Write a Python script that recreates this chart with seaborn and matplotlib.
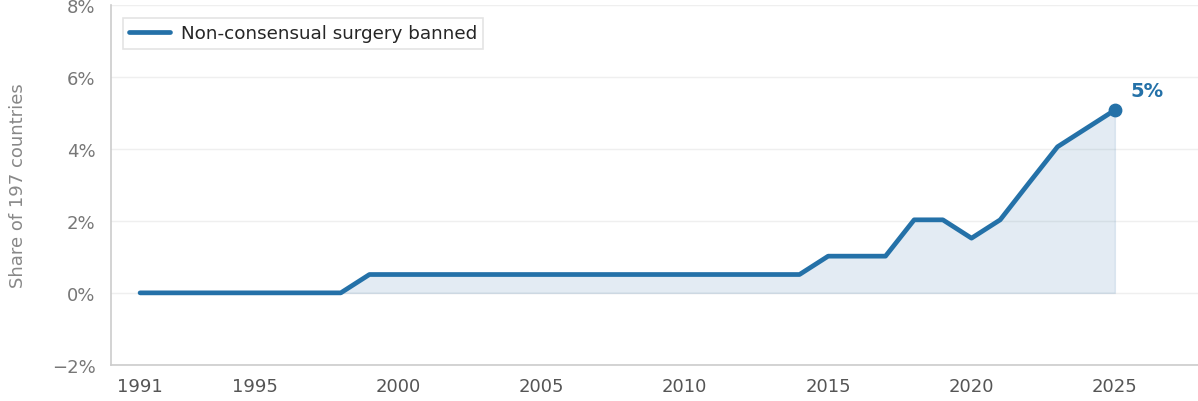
import matplotlib
matplotlib.use('Agg')
import matplotlib.pyplot as plt
import seaborn as sns
import pandas as pd
from matplotlib.ticker import FuncFormatter

sns.set_style('white')
plt.rcParams['font.family'] = ['DejaVu Sans']

years = list(range(1991, 2026))
share = [0.0] * 8 + [0.51] * 16 + [1.02] * 3 + [2.03, 2.03, 1.52, 2.03, 3.05, 4.06, 4.57, 5.08]
series_name = 'Non-consensual surgery banned'
x_ticks = [1991, 1995, 2000, 2005, 2010, 2015, 2020, 2025]
y_ticks = [-2, 0, 2, 4, 6, 8]

df = pd.DataFrame({'year': years, 'share': share})
blue = '#2471a8'
grey = '#777777'

fig = plt.figure(figsize=(11.98, 4.02), dpi=100)
ax = fig.add_axes([0.093, 0.09, 0.907, 0.895])

ax.fill_between(df['year'], 0, df['share'], color='#3b78ad', alpha=0.14, linewidth=1)
sns.lineplot(data=df, x='year', y='share', color=blue, linewidth=3.4, ax=ax,
             label=series_name, solid_capstyle='round')
last = df.iloc[-1]
ax.scatter([last['year']], [last['share']], color=blue, s=80, zorder=5)
ax.annotate(f"{last['share']:.0f}%", (last['year'], last['share']), xytext=(11, 10),
            textcoords='offset points', color=blue, fontsize=14, fontweight='bold')

ax.set_xlim(1990, 2027.9)
ax.set_ylim(-2, 8)
ax.set_xticks(x_ticks)
ax.set_yticks(y_ticks)
ax.yaxis.set_major_formatter(FuncFormatter(lambda v, p: f'{v:.0f}%'.replace('-', '\u2212')))
ax.grid(axis='y', color='#efefef', linewidth=1)
ax.set_axisbelow(True)

for side in ['top', 'right']:
    ax.spines[side].set_visible(False)
for side in ['left', 'bottom']:
    ax.spines[side].set_color('#cccccc')
    ax.spines[side].set_linewidth(1.2)

ax.tick_params(axis='x', length=5, width=1.2, color='#222222', labelcolor='#555555', labelsize=13, pad=4)
ax.tick_params(axis='y', length=4.5, width=1.2, color='#555555', labelcolor=grey, labelsize=13, pad=7)
ax.set_xlabel('')
ax.set_ylabel('Share of 197 countries', color='#888888', fontsize=13, labelpad=18)

leg = ax.legend(loc='upper left', fontsize=13.2, frameon=True, fancybox=False,
                borderpad=0.35, handlelength=2.2, handletextpad=0.6,
                bbox_to_anchor=(0.002, 0.99))
leg.get_frame().set_edgecolor('#dddddd')
leg.get_frame().set_linewidth(1.2)

fig.savefig('out.png', dpi=100)
